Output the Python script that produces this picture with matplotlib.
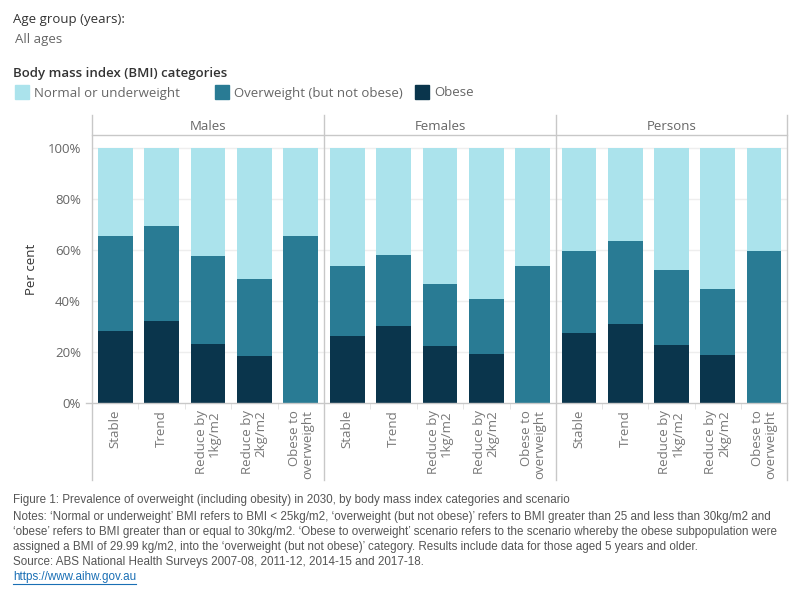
import matplotlib
matplotlib.use("Agg")
import matplotlib.pyplot as plt
from matplotlib.patches import Rectangle
from matplotlib.lines import Line2D
import numpy as np

plt.rcParams['font.family'] = ['Open Sans', 'DejaVu Sans']

panels = ["Males", "Females", "Persons"]
scenarios = ["Stable", "Trend", "Reduce by\n1kg/m2", "Reduce by\n2kg/m2", "Obese to\noverweight"]
# values in per cent
obese = {
    "Males":   [28.1, 32.0, 23.0, 18.3, 0.0],
    "Females": [26.1, 30.1, 22.2, 19.1, 0.0],
    "Persons": [27.3, 30.8, 22.6, 18.7, 0.0],
}
overweight = {
    "Males":   [37.3, 37.3, 34.5, 30.2, 65.4],
    "Females": [27.5, 27.8, 24.3, 21.6, 53.6],
    "Persons": [32.2, 32.6, 29.4, 25.9, 59.5],
}
normal = {
    "Males":   [34.6, 30.7, 42.5, 51.5, 34.6],
    "Females": [46.4, 42.1, 53.5, 59.3, 46.4],
    "Persons": [40.5, 36.6, 48.0, 55.4, 40.5],
}
categories = ["Normal or underweight", "Overweight (but not obese)", "Obese"]
colors = ["#abe3ec", "#297b94", "#0a354c"]
yticks = [0, 20, 40, 60, 80, 100]

W, H = 800, 600
fig = plt.figure(figsize=(8, 6), dpi=100)

def fx(x): return x / W
def fy(y): return 1 - y / H

gray_line = "#c8c8c8"
text_gray = "#666666"

panel_x = [92, 324, 556, 787]
top_hdr, bot_hdr, plot_bot, lab_bot = 115, 135, 403, 480

for i, p in enumerate(panels):
    x0, x1 = panel_x[i], panel_x[i + 1]
    ax = fig.add_axes([fx(x0), fy(plot_bot), fx(x1 - x0), (plot_bot - bot_hdr) / H])
    x = np.arange(len(scenarios))
    ob = np.array(obese[p]); ow = np.array(overweight[p]); nm = np.array(normal[p])
    ax.bar(x, ob, width=0.75, color=colors[2], zorder=2)
    ax.bar(x, ow, bottom=ob, width=0.75, color=colors[1], zorder=2)
    ax.bar(x, nm, bottom=ob + ow, width=0.75, color=colors[0], zorder=2)
    ax.set_xlim(-0.5, len(scenarios) - 0.5)
    ax.set_ylim(0, 105.1)
    ax.set_yticks(yticks)
    for t in yticks[1:]:
        ax.axhline(t, color="#eeeeee", lw=1, zorder=0)
    for s in ax.spines.values():
        s.set_visible(False)
    ax.set_xticks(x)
    ax.set_xticklabels(scenarios, rotation=90, multialignment='right',
                       fontsize=9.5, color="#777777", linespacing=1.05)
    ax.tick_params(axis='x', length=0, pad=5)
    ax.set_xticks(np.arange(len(scenarios) + 1) - 0.5, minor=True)
    ax.tick_params(axis='x', which='minor', length=4, color="#e0e0e0")
    if i == 0:
        ax.set_yticklabels([f"{t}%" for t in yticks], fontsize=9.5, color=text_gray)
        ax.tick_params(axis='y', length=0, pad=8)
        ax.set_ylabel("Per cent", fontsize=9.5, color="#333333", labelpad=7)
    else:
        ax.tick_params(axis='y', left=False, labelleft=False)
    # header
    fig.text(fx((x0 + x1) / 2), fy(126), p, ha='center', va='center',
             fontsize=9.5, color=text_gray)

# frame lines
for xv in panel_x:
    fig.add_artist(Line2D([fx(xv), fx(xv)], [fy(top_hdr), fy(lab_bot)],
                          color=gray_line, lw=1))
fig.add_artist(Line2D([fx(92), fx(787)], [fy(bot_hdr), fy(bot_hdr)], color=gray_line, lw=1))
fig.add_artist(Line2D([fx(86), fx(787)], [fy(plot_bot), fy(plot_bot)], color=gray_line, lw=1))

# top filters / legend
fig.text(fx(13), fy(20), "Age group (years):", fontsize=9.5, color="#333333", va='center')
fig.text(fx(15), fy(39), "All ages", fontsize=9.5, color=text_gray, va='center')
fig.text(fx(13), fy(74), "Body mass index (BMI) categories", fontsize=9.5,
         color="#333333", va='center', fontweight='semibold')
leg_x = [15, 215, 415]
for lx, lab, c in zip(leg_x, categories, colors):
    fig.add_artist(Rectangle((fx(lx), fy(99)), fx(14), 14 / H, color=c,
                             transform=fig.transFigure))
    fig.text(fx(lx + 19), fy(93), lab, fontsize=9.5, color=text_gray, va='center')

# caption
cap_font = ['Liberation Sans', 'DejaVu Sans']
cap_lines = [
    "Figure 1: Prevalence of overweight (including obesity) in 2030, by body mass index categories and scenario",
    "Notes: \u2018Normal or underweight\u2019 BMI refers to BMI < 25kg/m2, \u2018overweight (but not obese)\u2019 refers to BMI greater than 25 and less than 30kg/m2 and",
    "\u2018obese\u2019 refers to BMI greater than or equal to 30kg/m2. \u2018Obese to overweight\u2019 scenario refers to the scenario whereby the obese subpopulation were",
    "assigned a BMI of 29.99 kg/m2, into the \u2018overweight (but not obese)\u2019 category. Results include data for those aged 5 years and older.",
    "Source: ABS National Health Surveys 2007-08, 2011-12, 2014-15 and 2017-18.",
]
cap_y = [500, 517, 532, 547, 562]
cap_texts = []
for ln, yy in zip(cap_lines, cap_y):
    cap_texts.append(fig.text(fx(13), fy(yy), ln, fontsize=9, color="#555555",
                              va='center', family=cap_font))
url = fig.text(fx(13), fy(577), "https://www.aihw.gov.au", fontsize=9, color="#1a6fb5",
               va='center', family=cap_font)
# fit widest caption line to the reference width (~767 px)
fig.canvas.draw()
r = fig.canvas.get_renderer()
widest = max(t.get_window_extent(r).width for t in cap_texts)
fs = 9 * 767 / widest
for t in cap_texts + [url]:
    t.set_fontsize(fs)
fig.canvas.draw()
ub = url.get_window_extent(r)
fig.add_artist(Line2D([ub.x0 / W, ub.x1 / W], [fy(584), fy(584)], color="#1a6fb5", lw=0.8))

fig.savefig("out.png", dpi=100)
